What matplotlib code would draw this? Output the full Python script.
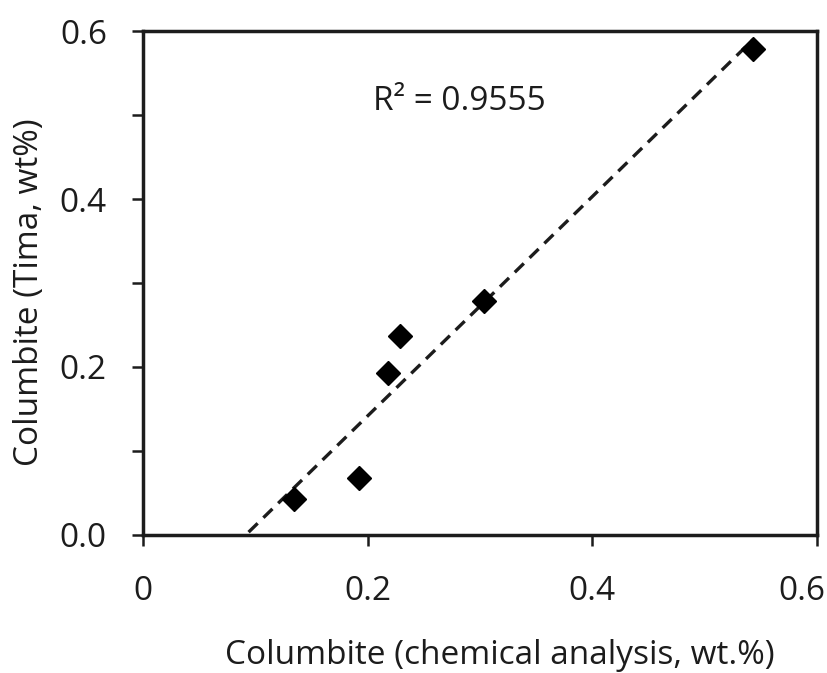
import numpy as np
import matplotlib
matplotlib.use("Agg")
import matplotlib.pyplot as plt
from matplotlib.ticker import MultipleLocator, FixedLocator, FixedFormatter
from matplotlib.transforms import ScaledTranslation

# Columbite content: chemical analysis vs. TIMA mineralogy (wt.%)
chem_wt = [0.134, 0.192, 0.218, 0.229, 0.304, 0.543]
tima_wt = [0.043, 0.068, 0.193, 0.237, 0.279, 0.579]
r2_label = "R² = 0.9555"
x_ticks = [0.0, 0.2, 0.4, 0.6]
x_tick_labels = ["0", "0.2", "0.4", "0.6"]
y_ticks = [0.0, 0.2, 0.4, 0.6]
y_tick_labels = ["0.0", "0.2", "0.4", "0.6"]

plt.rcParams["font.family"] = ["Open Sans", "DejaVu Sans"]
FS = 24

fig = plt.figure(figsize=(8.28, 6.73), dpi=100)
ax = fig.add_axes([0.1727, 0.2051, 0.8140, 0.7488])

ink = "#1c1c1c"

# Linear trendline with a short backward forecast
slope, intercept = np.polyfit(chem_wt, tima_wt, 1)
x_line = np.array([min(chem_wt) - 0.04, max(chem_wt)])
ax.plot(x_line, slope * x_line + intercept, color=ink, lw=2.4,
        dashes=[3.8, 2.4], zorder=2)

ax.plot(chem_wt, tima_wt, linestyle="none", marker="D", markersize=12,
        color="black", zorder=3)

ax.text(0.205, 0.506, r2_label, fontsize=FS, color=ink, va="baseline",
        ha="left")

ax.set_xlim(0, 0.6)
ax.set_ylim(0, 0.6)
ax.xaxis.set_major_locator(FixedLocator(x_ticks))
ax.xaxis.set_major_formatter(FixedFormatter(x_tick_labels))
ax.yaxis.set_major_locator(FixedLocator(y_ticks))
ax.yaxis.set_major_formatter(FixedFormatter(y_tick_labels))
ax.yaxis.set_minor_locator(MultipleLocator(0.1))

for s in ax.spines.values():
    s.set_linewidth(2.5)
    s.set_color(ink)

ax.tick_params(axis="both", which="both", direction="out", width=1.8,
               color=ink, labelsize=FS, labelcolor=ink)
ax.tick_params(axis="x", which="major", length=8, pad=21)
ax.tick_params(axis="y", which="major", length=8, pad=18)
ax.tick_params(axis="y", which="minor", length=8)

ax.set_xlabel("Columbite (chemical analysis, wt.%)", fontsize=FS, color=ink,
              labelpad=22)
ax.set_ylabel("Columbite (Tima, wt%)", fontsize=FS, color=ink, labelpad=10)
ax.xaxis.label.set_x(0.53)
ax.yaxis.label.set_y(0.482)

# keep the last x tick label inside the figure edge
fig.canvas.draw()
last = ax.get_xticklabels()[-1]
last.set_transform(last.get_transform()
                   + ScaledTranslation(-15 / 100, 0, fig.dpi_scale_trans))

fig.savefig("out.png", dpi=100, facecolor="white")
